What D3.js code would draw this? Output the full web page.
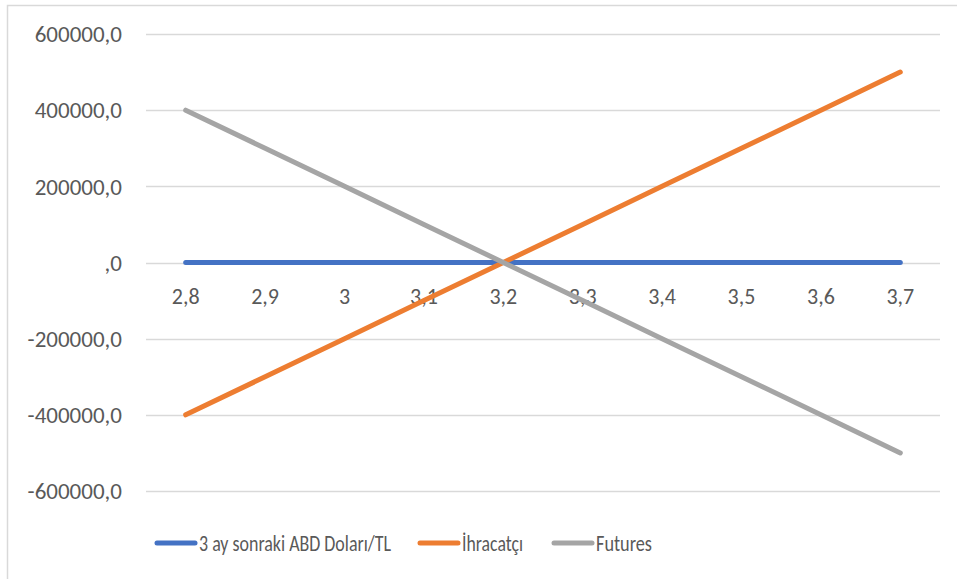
<!DOCTYPE html>
<html>
<head>
<meta charset="utf-8">
<script src="https://cdn.jsdelivr.net/npm/d3@7"></script>
<style>
  body { margin: 0; background: #fff; }
  svg { display: block; font-family: Calibri, Carlito, Lato, sans-serif; }
</style>
</head>
<body>
<div id="chart"></div>
<script>
// exchange rates (x categories)
let rates = [2.8, 2.9, 3, 3.1, 3.2, 3.3, 3.4, 3.5, 3.6, 3.7];
let seriesNames = ["3 ay sonraki ABD Doları/TL", "İhracatçı", "Futures"];
let spotValues = [0, 0, 0, 0, 0, 0, 0, 0, 0, 0];
let exporterValues = [-400000, -300000, -200000, -100000, 0, 100000, 200000, 300000, 400000, 500000];
let futuresValues = [400000, 300000, 200000, 100000, 0, -100000, -200000, -300000, -400000, -500000];
let yTicks = [-600000, -400000, -200000, 0, 200000, 400000, 600000];
let colors = ["#4472c4", "#ed7d31", "#a5a5a5"];

let width = 957, height = 579;
let svg = d3.select("#chart").append("svg")
    .attr("width", width)
    .attr("height", height);

// outer chart border (only left/top visible in the crop)
svg.append("path")
    .attr("d", "M7.5,579 V5.5 H957")
    .attr("fill", "none")
    .attr("stroke", "#d9d9d9")
    .attr("stroke-width", 1.5);

let plotLeft = 146, plotRight = 940;
let y = d3.scaleLinear().domain([-600000, 600000]).range([491, 34]);
let x = d3.scaleBand().domain(rates).range([plotLeft, plotRight]);
let xc = d => x(d) + x.bandwidth() / 2;

let fmt = v => v === 0 ? ",0" : (v.toFixed(1)).replace(".", ",");

// gridlines
svg.append("g")
    .selectAll("line")
    .data(yTicks)
    .join("line")
    .attr("x1", plotLeft)
    .attr("x2", plotRight)
    .attr("y1", d => Math.round(y(d)) + 0.5)
    .attr("y2", d => Math.round(y(d)) + 0.5)
    .attr("stroke", "#d9d9d9")
    .attr("stroke-width", 1.3);

// y axis labels
svg.append("g")
    .selectAll("text")
    .data(yTicks)
    .join("text")
    .attr("x", 122)
    .attr("y", d => y(d))
    .attr("dy", "0.36em")
    .attr("text-anchor", "end")
    .attr("fill", "#595959")
    .style("font-size", "23px")
    .text(fmt);

// x axis labels, drawn under the zero line
svg.append("g")
    .selectAll("text")
    .data(rates)
    .join("text")
    .attr("x", d => xc(d))
    .attr("y", y(0) + 41)
    .attr("text-anchor", "middle")
    .attr("fill", "#595959")
    .style("font-size", "22px")
    .text(d => String(d).replace(".", ","));

let allSeries = [spotValues, exporterValues, futuresValues];
let line = d3.line()
    .x((d, i) => xc(rates[i]))
    .y(d => y(d));

svg.append("g")
    .selectAll("path")
    .data(allSeries)
    .join("path")
    .attr("d", d => line(d))
    .attr("fill", "none")
    .attr("stroke", (d, i) => colors[i])
    .attr("stroke-width", 5)
    .attr("stroke-linecap", "round")
    .attr("stroke-linejoin", "round");

// legend
let legendX = [157, 420, 554];
let legendTextW = [192, 61, 56];
let legend = svg.append("g")
    .selectAll("g")
    .data(seriesNames)
    .join("g")
    .attr("transform", (d, i) => `translate(${legendX[i]}, 543)`);

legend.append("line")
    .attr("x1", 0)
    .attr("x2", 38)
    .attr("stroke", (d, i) => colors[i])
    .attr("stroke-width", 5)
    .attr("stroke-linecap", "round");

legend.append("text")
    .attr("x", 42)
    .attr("dy", "0.36em")
    .attr("fill", "#595959")
    .attr("textLength", (d, i) => legendTextW[i])
    .attr("lengthAdjust", "spacingAndGlyphs")
    .style("font-size", "22px")
    .text(d => d);
</script>
</body>
</html>
